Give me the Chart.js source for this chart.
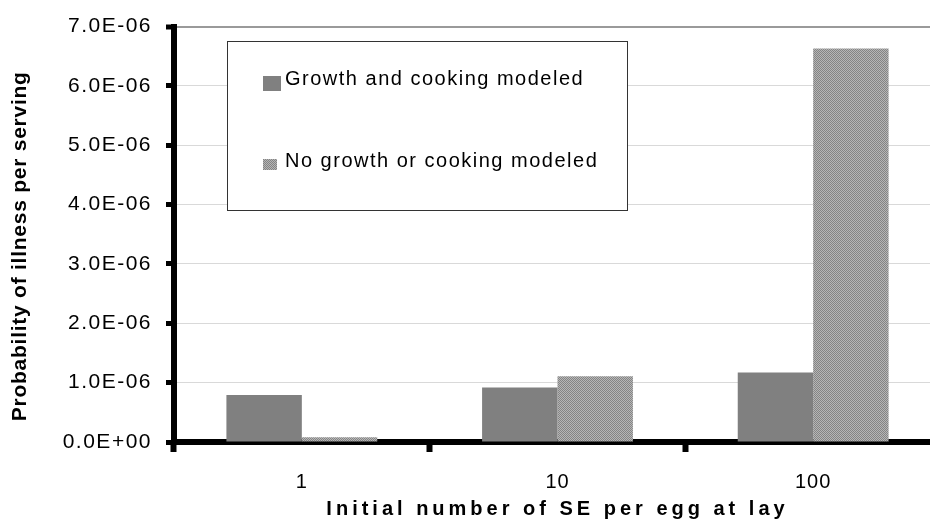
<!DOCTYPE html>
<html>
<head>
<meta charset="utf-8">
<script src="https://cdn.jsdelivr.net/npm/chart.js@4.4.1/dist/chart.umd.min.js"></script>
<style>
  html, body { margin: 0; padding: 0; background: #fff; overflow: hidden; }
  #wrap { width: 930px; height: 525px; overflow: hidden; }
</style>
</head>
<body>
<div id="wrap"><canvas id="myChart" width="950" height="525"></canvas></div>
<script>
const categories = ['1', '10', '100'];
const growthCooking = [0.79e-6, 0.92e-6, 1.17e-6];
const noGrowthCooking = [0.08e-6, 1.11e-6, 6.63e-6];
const seriesNames = ['Growth and cooking modeled', 'No growth or cooking modeled'];
const xTitle = 'Initial number of SE per egg at lay';
const yTitle = 'Probability of illness per serving';

const FONT = "'Liberation Sans', Arial, sans-serif";

// fine dithered fill like the original
function makePattern() {
  const p = document.createElement('canvas');
  p.width = 2; p.height = 2;
  const c = p.getContext('2d');
  c.fillStyle = '#b6b6b6';
  c.fillRect(0, 0, 2, 2);
  c.fillStyle = '#848484';
  c.fillRect(0, 0, 1, 1);
  c.fillRect(1, 1, 1, 1);
  return c.createPattern(p, 'repeat');
}
const hatch = makePattern();

function sci(v) {
  if (Math.abs(v) < 1e-12) return '0.0E+00';
  const parts = Number(v).toExponential(1).split('e');
  const n = parseInt(parts[1], 10);
  return parts[0] + 'E' + (n < 0 ? '-' : '+') + String(Math.abs(n)).padStart(2, '0');
}

function spaced(fn, sp, dx, dy) {
  return function () {
    const c = this.ctx;
    c.save();
    c.letterSpacing = sp;
    c.translate(dx || 0, dy || 0);
    fn.apply(this, arguments);
    c.restore();
  };
}

const spacing = {
  id: 'spacing',
  beforeDraw(chart) {
    const x = chart.scales.x, y = chart.scales.y;
    if (!x._sp) {
      x.drawLabels = spaced(x.drawLabels, '1px');
      x.drawTitle = spaced(x.drawTitle, '4px');
      x._sp = true;
    }
    if (!y._sp) {
      y.drawLabels = spaced(y.drawLabels, '1.5px');
      y.drawTitle = spaced(y.drawTitle, '0.75px', 0, 12);
      y._sp = true;
    }
  }
};

const legendBox = {
  id: 'legendBox',
  afterDatasetsDraw(chart) {
    const c = chart.ctx;
    const ds = chart.data.datasets;
    c.save();
    c.fillStyle = '#fff';
    c.fillRect(227.5, 41.5, 400, 169);
    c.strokeStyle = '#333';
    c.lineWidth = 1;
    c.strokeRect(227.5, 41.5, 400, 169);
    c.fillStyle = ds[0].backgroundColor;
    c.fillRect(263, 76, 18, 15);
    c.fillStyle = ds[1].backgroundColor;
    c.fillRect(263, 159, 14, 11);
    c.fillStyle = '#000';
    c.font = '20px ' + FONT;
    c.letterSpacing = '1.5px';
    c.textBaseline = 'alphabetic';
    c.fillText(ds[0].label, 285, 85);
    c.fillText(ds[1].label, 285, 167);
    c.restore();
  }
};

const can = document.getElementById('myChart');
new Chart(can, {
  type: 'bar',
  data: {
    labels: categories,
    datasets: [{
      label: seriesNames[0],
      data: growthCooking,
      backgroundColor: '#808080',
      borderWidth: 0,
      barPercentage: 1.0,
      categoryPercentage: 0.59
    }, {
      label: seriesNames[1],
      data: noGrowthCooking,
      backgroundColor: hatch,
      borderWidth: 0,
      barPercentage: 1.0,
      categoryPercentage: 0.59
    }]
  },
  options: {
    responsive: false,
    animation: false,
    layout: { padding: { top: 19, right: 9, left: 0, bottom: 0 } },
    plugins: {
      legend: { display: false },
      tooltip: { enabled: false }
    },
    scales: {
      x: {
        grid: { offset: true, drawOnChartArea: false, tickLength: 10, tickWidth: 6, tickColor: '#000' },
        border: { color: '#000', width: 6 },
        ticks: { color: '#000', font: { family: FONT, size: 20 }, padding: 18, maxRotation: 0 },
        title: {
          display: true, text: xTitle, color: '#000',
          font: { family: FONT, size: 20, weight: 'bold' },
          padding: { top: 0, bottom: 4 }
        },
        afterFit(s) { s.height = 83; }
      },
      y: {
        min: 0,
        max: 7e-6,
        ticks: {
          stepSize: 1e-6, color: '#000', padding: 14,
          font: { family: FONT, size: 21 },
          callback: v => sci(v)
        },
        grid: {
          color: c => c.index === 7 ? '#9a9a9a' : '#d9d9d9',
          lineWidth: c => c.index === 7 ? 2 : 1,
          tickLength: 8, tickWidth: 5, tickColor: '#000'
        },
        border: { color: '#000', width: 6 },
        title: {
          display: true, text: yTitle, color: '#000',
          font: { family: FONT, size: 21, weight: 'bold' },
          padding: { top: 8, bottom: 0 }
        },
        afterFit(s) { s.width = 174; }
      }
    }
  },
  plugins: [spacing, legendBox]
});
</script>
</body>
</html>
